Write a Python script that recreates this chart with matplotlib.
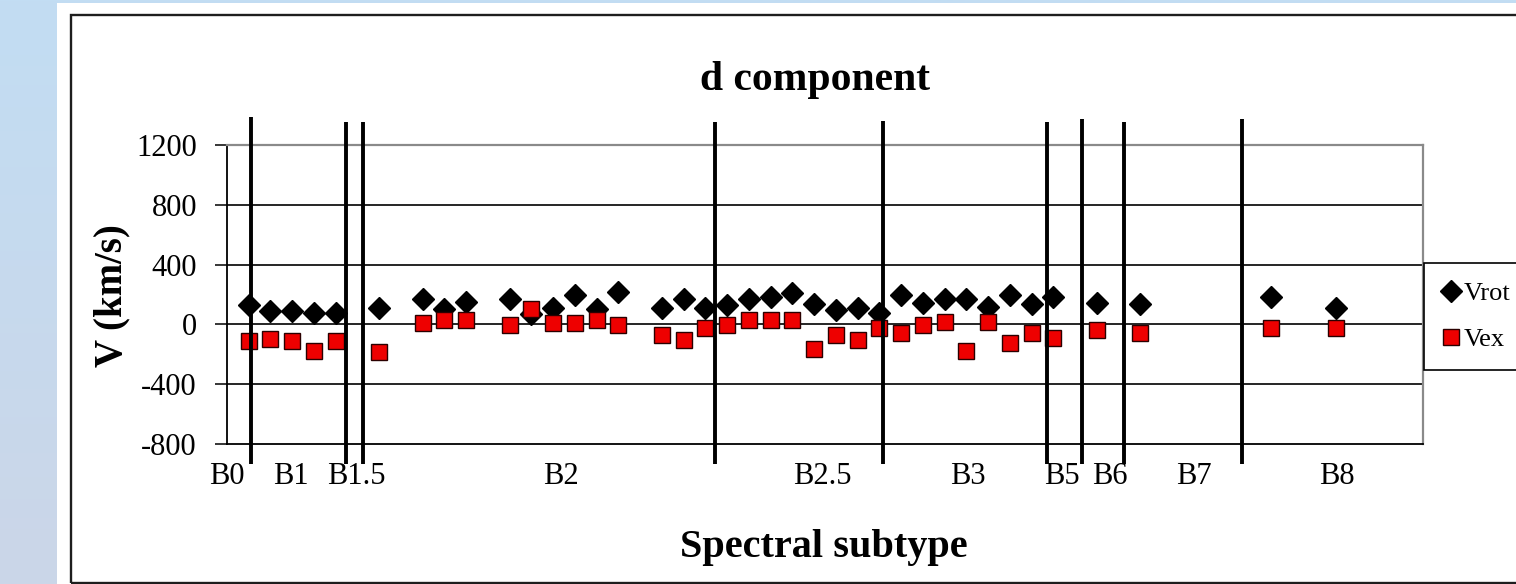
import matplotlib
matplotlib.use('Agg')
import matplotlib.pyplot as plt
import numpy as np
from matplotlib.patches import Rectangle

plt.rcParams['font.family'] = ['Liberation Serif', 'DejaVu Serif']

# ---- data ----
x_pos = [1, 2, 3, 4, 5, 7, 9, 10, 11, 13, 14, 15, 16, 17, 18,
         20, 21, 22, 23, 24, 25, 26, 27, 28, 29, 30, 31, 32, 33, 34, 35, 36, 37, 38,
         40, 42, 48, 51]
v_rot = [127, 89, 89, 73, 73, 111, 167, 105, 149, 167, 70, 111, 200, 100, 215,
         113, 167, 111, 133, 167, 182, 211, 137, 93, 111, 78, 200, 144, 167, 167, 115, 200, 137, 182,
         140, 137, 182, 111]
v_ex = [-111, -96, -111, -178, -111, -182, 11, 29, 29, -4, 100, 11, 11, 29, -4,
        -73, -107, -22, -4, 29, 29, 29, -162, -73, -107, -22, -60, -4, 15, -178, 15, -127, -56, -93,
        -38, -56, -22, -22]
series_names = ['Vrot', 'Vex']
subtype_labels = ['B0', 'B1', 'B1.5', 'B2', 'B2.5', 'B3', 'B5', 'B6', 'B7', 'B8']
subtype_label_x = [0, 2.95, 5.93, 15.36, 27.36, 34.08, 38.4, 40.6, 44.47, 51.05]
boundary_x = [1.10, 5.45, 6.24, 22.44, 30.19, 37.71, 39.30, 41.27, 46.68]
boundary_top = [1387, 1354, 1354, 1354, 1360, 1354, 1374, 1354, 1374]
y_ticks = [-800, -400, 0, 400, 800, 1200]

W, H = 1516, 584
fig = plt.figure(figsize=(W / 100, H / 100), dpi=100)

# ---- background ----
bg = fig.add_axes([0, 0, 1, 1], zorder=-10)
bg.set_axis_off()
top_c = np.array([0xc2, 0xdd, 0xf3]) / 255
bot_c = np.array([0xcb, 0xd6, 0xe8]) / 255
t = np.linspace(0, 1, 200)[:, None, None]
grad = top_c * (1 - t) + bot_c * t
bg.imshow(grad, extent=[0, 1, 0, 1], aspect='auto', origin='upper')
bg.set_xlim(0, 1)
bg.set_ylim(0, 1)
bg.add_patch(Rectangle((57 / W, 0), 1, 1 - 3 / H, facecolor='white', edgecolor='none'))
bg.add_patch(Rectangle((70.5 / W, 1.5 / H), 1.0, 1 - 15 / H - 1.5 / H, facecolor='none',
                       edgecolor='#1e1e1e', lw=1.7, clip_on=False))

# ---- main axes ----
ax = fig.add_axes([227 / W, 1 - 444 / H, (1423 - 227) / W, (444 - 145) / H])
ax.set_xlim(0, 55)
ax.set_ylim(-800, 1200)

for yv in y_ticks[1:-1]:
    ax.axhline(yv, color='black', lw=1.2, zorder=1)

ax.plot(x_pos, v_rot, linestyle='none', marker='D', ms=11, mfc='black', mec='black',
        zorder=3, label=series_names[0])
ax.plot(x_pos, v_ex, linestyle='none', marker='s', ms=11.5, mfc='#ee0000', mec='#2a0000',
        mew=1.0, zorder=4, label=series_names[1])

for bx, top in zip(boundary_x, boundary_top):
    ax.plot([bx, bx], [-935, top], color='black', lw=2.8, solid_capstyle='butt',
            clip_on=False, zorder=6)

for side in ['left', 'bottom']:
    ax.spines[side].set_color('black')
    ax.spines[side].set_linewidth(1.3)
for side in ['top', 'right']:
    ax.spines[side].set_color('#8a8a8a')
    ax.spines[side].set_linewidth(1.6)

ax.set_yticks(y_ticks)
ax.set_yticklabels([str(v) for v in y_ticks])
ax.tick_params(axis='y', direction='out', length=8.6, width=1.1, labelsize=22, pad=13)
ax.set_xticks(subtype_label_x)
ax.set_xticklabels(subtype_labels)
ax.tick_params(axis='x', length=0, labelsize=22, pad=13)

# ---- legend ----
leg = fig.legend(loc='upper left', bbox_to_anchor=(1424 / W, 1 - 263 / H),
                 bbox_transform=fig.transFigure, frameon=True, fancybox=False,
                 edgecolor='black', facecolor='white', framealpha=1, fontsize=19,
                 borderaxespad=0, handlelength=0.6, handletextpad=0.2,
                 borderpad=0.72, labelspacing=0.85)
leg.get_frame().set_linewidth(1.2)

# ---- text ----
fig.text(815 / W, 1 - 90 / H, 'd component', ha='center', va='baseline',
         fontsize=30, fontweight='bold')
fig.text(824 / W, 1 - 557 / H, 'Spectral subtype', ha='center', va='baseline',
         fontsize=29, fontweight='bold')
fig.text(112 / W, 1 - 296 / H, 'V (km/s)', rotation=90, ha='center', va='center',
         fontsize=28, fontweight='bold')

fig.savefig('out.png', dpi=100)
